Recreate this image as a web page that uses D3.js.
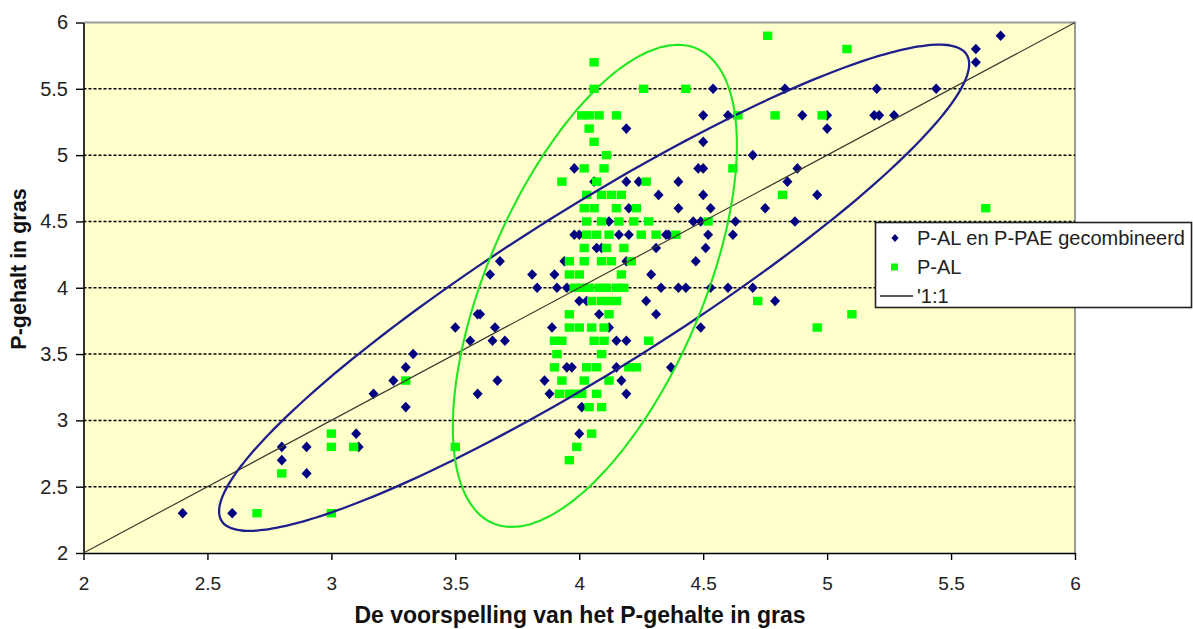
<!DOCTYPE html>
<html>
<head>
<meta charset="utf-8">
<script src="https://cdn.jsdelivr.net/npm/d3@7"></script>
<style>
    body { margin: 0; background: #fff; }
    svg { display: block; font-family: "Liberation Sans", Arial, sans-serif; }
</style>
</head>
<body>
<div id="chart"></div>
<script>
// P-AL en P-PAE gecombineerd (x = voorspelling, y = gemeten)
const combinedPoints = [
    [2.40, 2.3], [2.60, 2.3], [2.80, 2.8], [2.80, 2.7], [2.90, 2.8], [2.90, 2.6], [3.10, 2.9], [3.11, 2.8],
    [3.17, 3.2], [3.25, 3.3], [3.30, 3.4], [3.33, 3.5], [3.30, 3.1], [3.50, 3.7], [3.56, 3.6], [3.59, 3.2], [3.59, 3.8],
    [4.19, 5.2], [3.98, 4.9], [4.19, 4.8], [4.24, 4.8], [4.06, 4.8], [4.20, 4.6], [4.12, 4.5], [3.98, 4.4], [4.00, 4.4],
    [4.16, 4.4], [4.20, 4.4], [4.07, 4.3], [4.09, 4.3], [3.68, 4.2], [3.94, 4.2], [4.19, 4.2], [3.64, 4.1], [3.81, 4.1],
    [3.90, 4.1], [3.83, 4.0], [3.91, 4.0], [3.95, 4.0], [4.00, 3.9], [4.03, 3.9], [3.60, 3.8], [4.08, 3.8], [3.66, 3.7],
    [3.89, 3.7], [4.12, 3.7], [3.65, 3.6], [3.70, 3.6], [4.15, 3.6], [4.19, 3.6], [3.95, 3.4], [3.97, 3.4], [4.15, 3.4],
    [3.67, 3.3], [3.86, 3.3], [4.17, 3.3], [3.88, 3.2], [4.19, 3.2], [4.01, 3.1], [4.00, 2.9],
    [4.54, 5.5], [4.83, 5.5], [4.50, 5.3], [4.60, 5.3], [4.90, 5.3], [5.00, 5.3], [5.00, 5.2], [4.50, 5.1], [4.70, 5.0],
    [4.48, 4.9], [4.50, 4.9], [4.88, 4.9], [4.40, 4.8], [4.84, 4.8], [4.32, 4.7], [4.50, 4.7], [4.96, 4.7], [4.40, 4.6],
    [4.53, 4.6], [4.75, 4.6], [4.46, 4.5], [4.49, 4.5], [4.63, 4.5], [4.87, 4.5], [4.35, 4.4], [4.36, 4.4], [4.52, 4.4],
    [4.62, 4.4], [4.31, 4.3], [4.51, 4.3], [4.47, 4.2], [4.29, 4.1], [4.33, 4.0], [4.40, 4.0], [4.43, 4.0], [4.53, 4.0],
    [4.60, 4.0], [4.70, 4.0], [4.27, 3.9], [4.79, 3.9], [4.31, 3.8], [4.49, 3.7], [4.37, 3.4],
    [5.70, 5.9], [5.60, 5.8], [5.60, 5.7], [5.20, 5.5], [5.44, 5.5], [5.19, 5.3], [5.21, 5.3], [5.27, 5.3]
]

// P-AL
const palPoints = [
    [2.70, 2.3], [2.80, 2.6], [3.00, 2.9], [3.00, 2.8], [3.09, 2.8], [3.00, 2.3], [3.30, 3.3], [3.50, 2.8],
    [4.06, 5.7], [4.06, 5.5], [4.26, 5.5], [4.01, 5.3], [4.04, 5.3], [4.08, 5.3], [4.15, 5.3], [4.04, 5.2], [4.06, 5.1],
    [4.11, 5.0], [4.02, 4.9], [4.10, 4.9], [3.93, 4.8], [4.07, 4.8], [4.27, 4.8], [4.03, 4.7], [4.09, 4.7], [4.13, 4.7],
    [4.17, 4.7], [4.02, 4.6], [4.06, 4.6], [4.15, 4.6], [4.23, 4.6], [4.03, 4.5], [4.09, 4.5], [4.16, 4.5], [4.22, 4.5],
    [4.28, 4.5], [4.03, 4.4], [4.07, 4.4], [4.12, 4.4], [4.25, 4.4], [4.31, 4.4], [4.39, 4.4], [4.02, 4.3], [4.11, 4.3],
    [4.18, 4.3], [3.96, 4.2], [4.02, 4.2], [4.09, 4.2], [4.13, 4.2], [4.21, 4.2], [3.96, 4.1], [4.00, 4.1], [4.17, 4.1],
    [3.98, 4.0], [4.01, 4.0], [4.04, 4.0], [4.08, 4.0], [4.11, 4.0], [4.15, 4.0], [4.18, 4.0], [4.05, 3.9], [4.09, 3.9],
    [4.12, 3.9], [4.15, 3.9], [3.96, 3.8], [4.12, 3.8], [3.96, 3.7], [4.00, 3.7], [4.05, 3.7], [4.10, 3.7], [3.90, 3.6],
    [3.93, 3.6], [4.06, 3.6], [4.10, 3.6], [3.91, 3.5], [4.09, 3.5], [3.90, 3.4], [4.03, 3.4], [4.07, 3.4], [4.20, 3.4],
    [4.23, 3.4], [3.93, 3.3], [4.02, 3.3], [4.12, 3.3], [3.92, 3.2], [3.96, 3.2], [3.98, 3.2], [4.01, 3.2], [4.07, 3.2],
    [4.04, 3.1], [4.09, 3.1], [4.05, 2.9], [3.99, 2.8], [3.96, 2.7],
    [4.76, 5.9], [5.08, 5.8], [4.43, 5.5], [4.64, 5.3], [4.79, 5.3], [4.98, 5.3], [4.62, 4.9], [4.82, 4.7], [4.52, 4.5],
    [4.72, 3.9], [5.10, 3.8], [4.96, 3.7], [4.28, 3.6], [5.64, 4.6]
]

// '1:1 lijn
const oneToOne = [[2, 2], [6, 6]]

const xTicks = [2, 2.5, 3, 3.5, 4, 4.5, 5, 5.5, 6]
const yTicks = [2, 2.5, 3, 3.5, 4, 4.5, 5, 5.5, 6]
const gridValues = [2.5, 3, 3.5, 4, 4.5, 5, 5.5]

// ellipses (centre and two conjugate half-axes, in data units)
const blueEllipse = [[4.06, 4.0], [1.513, 1.686], [0, -0.719]]
const greenEllipse = [[4.063, 4.014], [0.573, 1.063], [0, -1.474]]

const legendLabels = ["P-AL en P-PAE gecombineerd", "P-AL", "'1:1"]

const width = 1193, height = 629
const plot = {left: 83.5, right: 1075, top: 22.5, bottom: 553}

const svg = d3.select("#chart").append("svg")
    .attr("width", width)
    .attr("height", height)

const x = d3.scaleLinear().domain([2, 6]).range([plot.left, plot.right])
const y = d3.scaleLinear().domain([2, 6]).range([plot.bottom, plot.top])

// plot background
svg.append("rect")
    .attr("x", plot.left).attr("y", plot.top)
    .attr("width", plot.right - plot.left).attr("height", plot.bottom - plot.top)
    .attr("fill", "#ffffcc")
svg.append("path")
    .attr("d", `M${plot.left},${plot.top}H${plot.right}V${plot.bottom}`)
    .attr("fill", "none").attr("stroke", "#9a9a9a").attr("stroke-width", 2)

// gridlines
svg.append("g").selectAll("line")
    .data(gridValues)
    .join("line")
    .attr("x1", plot.left).attr("x2", plot.right)
    .attr("y1", d => y(d)).attr("y2", d => y(d))
    .attr("stroke", "#000").attr("stroke-width", 1.5)
    .attr("stroke-dasharray", "3,2")

// axes
const xAxis = svg.append("g")
    .attr("transform", `translate(0,${plot.bottom})`)
    .call(d3.axisBottom(x).tickValues(xTicks).tickFormat(d3.format("")).tickSize(7).tickSizeOuter(0).tickPadding(17))
const yAxis = svg.append("g")
    .attr("transform", `translate(${plot.left},0)`)
    .call(d3.axisLeft(y).tickValues(yTicks).tickFormat(d3.format("")).tickSize(7.5).tickSizeOuter(0).tickPadding(8))
;[xAxis, yAxis].forEach(g => {
    g.select(".domain").attr("stroke", "#000").attr("stroke-width", 1.6)
    g.selectAll(".tick line").attr("stroke", "#000").attr("stroke-width", 1.4)
    g.selectAll(".tick text").attr("fill", "#222").style("font-size", "19px")
        .style("font-family", "'Liberation Sans', Arial, sans-serif")
})
yAxis.selectAll(".tick text").style("font-size", "20px")

// data series
const diamond = "M0,-5.3L5,0L0,5.3L-5,0Z"
svg.append("g").selectAll("path")
    .data(combinedPoints)
    .join("path")
    .attr("d", diamond)
    .attr("transform", d => `translate(${x(d[0])},${y(d[1])})`)
    .attr("fill", "#000080")

svg.append("g").selectAll("rect")
    .data(palPoints)
    .join("rect")
    .attr("x", d => x(d[0]) - 4.7)
    .attr("y", d => y(d[1]) - 4.2)
    .attr("width", 9.4).attr("height", 8.4)
    .attr("fill", "#00ff00")

svg.append("path")
    .datum(oneToOne)
    .attr("d", d3.line().x(d => x(d[0])).y(d => y(d[1])))
    .attr("fill", "none").attr("stroke", "#3c3c30").attr("stroke-width", 1.2)

// ellipses
function ellipsePoints(e) {
    const [c, u, v] = e
    return d3.range(0, 360, 2).map(a => {
        const t = a * Math.PI / 180
        return [c[0] + u[0] * Math.cos(t) + v[0] * Math.sin(t), c[1] + u[1] * Math.cos(t) + v[1] * Math.sin(t)]
    })
}
const ellipseLine = d3.line().x(d => x(d[0])).y(d => y(d[1])).curve(d3.curveCardinalClosed)
svg.append("path")
    .datum(ellipsePoints(blueEllipse))
    .attr("d", ellipseLine)
    .attr("fill", "none").attr("stroke", "#1f1f8c").attr("stroke-width", 2.3)
svg.append("path")
    .datum(ellipsePoints(greenEllipse))
    .attr("d", ellipseLine)
    .attr("fill", "none").attr("stroke", "#22e622").attr("stroke-width", 2.1)

// axis titles
svg.append("text")
    .attr("x", 580).attr("y", 623)
    .attr("text-anchor", "middle")
    .style("font-size", "23px").style("font-weight", "bold")
    .attr("fill", "#111")
    .text("De voorspelling van het P-gehalte in gras")
svg.append("text")
    .attr("transform", "translate(26,269) rotate(-90)")
    .attr("text-anchor", "middle")
    .style("font-size", "21.5px").style("font-weight", "bold")
    .attr("fill", "#111")
    .text("P-gehalt in gras")

// legend
const legend = svg.append("g")
legend.append("rect")
    .attr("x", 875.5).attr("y", 222.5).attr("width", 316).attr("height", 85)
    .attr("fill", "#fff").attr("stroke", "#222").attr("stroke-width", 1.6)
legend.append("path")
    .attr("d", "M0,-4L3.6,0L0,4L-3.6,0Z")
    .attr("transform", "translate(895,238)")
    .attr("fill", "#000080")
legend.append("rect")
    .attr("x", 891).attr("y", 263.5).attr("width", 7).attr("height", 7)
    .attr("fill", "#00ff00")
legend.append("line")
    .attr("x1", 880).attr("x2", 913).attr("y1", 296).attr("y2", 296)
    .attr("stroke", "#222").attr("stroke-width", 1.4)
legend.selectAll("text")
    .data(legendLabels)
    .join("text")
    .attr("x", 917)
    .attr("y", (d, i) => 245 + i * 29)
    .style("font-size", "20px")
    .attr("fill", "#222")
    .text(d => d)
</script>
</body>
</html>
